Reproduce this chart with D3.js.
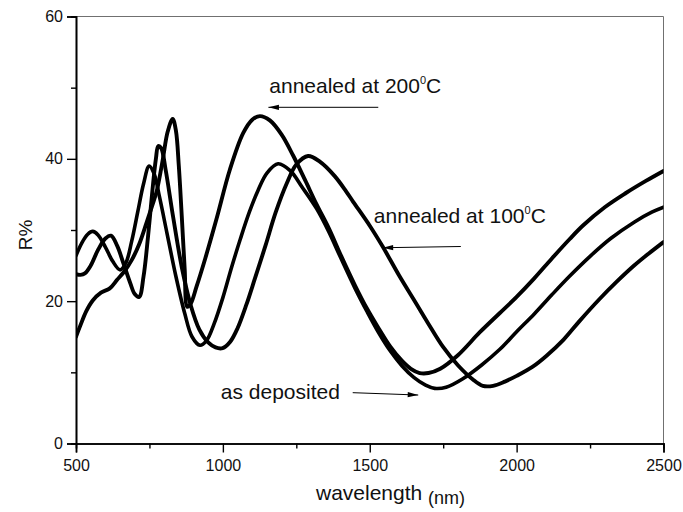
<!DOCTYPE html>
<html>
<head>
<meta charset="utf-8">
<script src="https://cdn.jsdelivr.net/npm/d3@7"></script>
<style>
  html, body { margin: 0; padding: 0; background: #fff; }
  svg { display: block; }
  text { font-family: "Liberation Sans", Arial, Helvetica, sans-serif; fill: #111; }
</style>
</head>
<body>
<svg id="chart" width="683" height="512"></svg>
<script>
// ---- data (wavelength in nm, reflectance in %) ----
const wlAsDep = [500,520,540,557,575,600,625,650,670,690,710,730,749,765,785,810,840,870,895,922,945,970,1000,1030,1060,1090,1120,1150,1188,1230,1270,1319,1360,1400,1450,1490,1530,1570,1610,1650,1690,1721,1760,1817,1880,1942,2000,2060,2120,2180,2250,2320,2400,2460,2500];
const rAsDep  = [26.4,28.2,29.4,29.8,29.3,27.6,25.6,24.4,25.4,28.5,32.5,36.5,39.0,38.0,34.5,29.5,23.5,18.3,15.0,13.8,14.5,16.8,20.5,24.8,28.8,32.5,35.6,38.0,39.3,38.3,36.0,33.0,29.8,26.2,21.8,18.6,15.6,13.0,10.9,9.3,8.2,7.75,7.9,9.1,11.0,13.2,15.7,18.2,20.9,23.5,26.3,28.8,31.1,32.5,33.2];

const wl100 = [500,515,530,550,575,600,619,640,660,685,700,715,730,745,760,772,780,790,805,830,860,890,920,950,975,999,1025,1050,1080,1110,1145,1180,1218,1250,1290,1330,1380,1420,1443,1500,1545,1600,1659,1700,1749,1800,1851,1885,1920,1960,2000,2055,2101,2160,2214,2280,2340,2400,2450,2500];
const r100  = [23.8,23.7,23.9,25.0,27.2,28.8,29.2,27.8,25.5,22.5,21.0,20.6,23.5,29.0,35.5,40.0,41.8,41.5,38.5,32.0,24.8,19.5,16.0,14.2,13.5,13.4,14.3,16.2,19.5,23.3,27.8,32.5,36.6,39.2,40.4,39.6,37.6,35.4,34.0,30.6,27.6,23.6,19.6,16.8,13.6,11.0,9.0,8.1,8.1,8.7,9.5,10.8,12.3,14.6,17.2,20.2,22.7,25.0,26.7,28.3];

const wl200 = [500,515,535,557,585,615,640,665,690,715,740,760,775,795,812,829,840,850,860,870,879,890,910,940,978,1024,1069,1100,1126,1160,1200,1240,1280,1319,1360,1400,1450,1490,1530,1570,1610,1640,1670,1700,1740,1800,1874,1942,2000,2060,2120,2180,2225,2300,2372,2440,2500];
const r200  = [15.0,16.6,18.6,20.1,21.2,21.8,23.0,24.2,25.8,28.0,31.0,33.5,35.5,39.8,43.8,45.6,44.0,39.0,32.0,24.5,19.2,19.6,22.0,26.0,31.5,38.5,43.6,45.5,46.0,45.4,43.4,40.4,37.0,33.6,30.3,26.6,22.2,19.0,16.2,13.6,11.6,10.5,9.9,9.9,10.5,12.4,15.6,18.3,20.6,23.2,26.0,28.7,30.6,33.2,35.2,36.9,38.3];

const xMajorTicks = [500,1000,1500,2000,2500];
const xMinorTicks = [750,1250,1750,2250];
const yMajorTicks = [0,20,40,60];
const yMinorTicks = [10,30,50];

// annotation anchor points in data units
const annoLabels = ["annealed at 200", "annealed at 100", "as deposited"];
const annoSup    = ["0", "0", ""];
const annoSuffix = ["C", "C", ""];
const annoTextWl = [1158, 1514, 993];
const annoTextR  = [49.3, 30.94, 6.21];
const arrowFromWl = [1529, 1810, 1442];
const arrowFromR  = [47.24, 27.68, 7.14];
const arrowToWl   = [1155, 1544, 1665];
const arrowToR    = [47.24, 27.51, 6.81];

// ---- drawing ----
const svg = d3.select("#chart");
const x = d3.scaleLinear().domain([500, 2500]).range([76, 663.5]);
const y = d3.scaleLinear().domain([0, 60]).range([443.5, 16.5]);

// frame: top and right thin grey
svg.append("line").attr("x1", x(500)).attr("x2", x(2500)).attr("y1", y(60)).attr("y2", y(60))
   .attr("stroke", "#707070").attr("stroke-width", 1);
svg.append("line").attr("x1", x(2500)).attr("x2", x(2500)).attr("y1", y(0)).attr("y2", y(60))
   .attr("stroke", "#707070").attr("stroke-width", 1);

// axes
const fontFam = '"Liberation Sans", Arial, Helvetica, sans-serif';
const gxMinor = svg.append("g").attr("transform", `translate(0,${y(0)})`)
  .call(d3.axisBottom(x).tickValues(xMinorTicks).tickSize(5).tickFormat(""));
const gx = svg.append("g").attr("transform", `translate(0,${y(0)})`)
  .call(d3.axisBottom(x).tickValues(xMajorTicks).tickSize(9).tickPadding(7).tickFormat(d3.format("d")));
const gyMinor = svg.append("g").attr("transform", `translate(${x(500)},0)`)
  .call(d3.axisLeft(y).tickValues(yMinorTicks).tickSize(5).tickFormat(""));
const gy = svg.append("g").attr("transform", `translate(${x(500)},0)`)
  .call(d3.axisLeft(y).tickValues(yMajorTicks).tickSize(9).tickPadding(4).tickFormat(d3.format("d")));

[gx, gy, gxMinor, gyMinor].forEach(g => {
  g.select(".domain").attr("stroke", "#000").attr("stroke-width", 1.6);
  g.selectAll(".tick line").attr("stroke", "#000").attr("stroke-width", 1.4);
  g.selectAll(".tick text").attr("font-family", fontFam).attr("font-size", 16).attr("fill", "#111");
});

// axis titles
const xt = svg.append("text").attr("x", 316).attr("y", 500).attr("font-size", 21);
xt.append("tspan").text("wavelength ");
xt.append("tspan").attr("font-size", 18).attr("dy", 4).text("(nm)");

svg.append("text").attr("transform", "translate(32,235) rotate(-90)")
  .attr("text-anchor", "middle").attr("font-size", 19).text("R%");

// curves
svg.append("clipPath").attr("id", "plotclip").append("rect")
  .attr("x", x(500)).attr("y", y(60)).attr("width", x(2500) - x(500)).attr("height", y(0) - y(60));

const line = d3.line().curve(d3.curveCatmullRom.alpha(0.5));
const series = [
  {wl: wlAsDep, r: rAsDep, w: 3.6},
  {wl: wl100, r: r100, w: 3.9},
  {wl: wl200, r: r200, w: 3.9}
];
const gc = svg.append("g").attr("clip-path", "url(#plotclip)");
series.forEach(s => {
  const pts = s.wl.map((w, i) => [x(w), y(s.r[i])]);
  gc.append("path").attr("d", line(pts)).attr("fill", "none")
    .attr("stroke", "#000").attr("stroke-width", s.w)
    .attr("stroke-linejoin", "round").attr("stroke-linecap", "round");
});

// arrow marker
svg.append("defs").append("marker").attr("id", "ah")
  .attr("viewBox", "0 0 12 8").attr("refX", 12).attr("refY", 4)
  .attr("markerWidth", 12).attr("markerHeight", 7).attr("markerUnits", "userSpaceOnUse")
  .attr("orient", "auto")
  .append("path").attr("d", "M0,1 L12,4 L0,7 Z").attr("fill", "#000");

annoLabels.forEach((lab, i) => {
  const t = svg.append("text").attr("x", x(annoTextWl[i])).attr("y", y(annoTextR[i])).attr("font-size", 21);
  t.append("tspan").text(lab);
  if (annoSup[i]) {
    t.append("tspan").attr("font-size", 11).attr("dy", -9).text(annoSup[i]);
    t.append("tspan").attr("font-size", 21).attr("dy", 9).text(annoSuffix[i]);
  }
  svg.append("line")
    .attr("x1", x(arrowFromWl[i])).attr("y1", y(arrowFromR[i]))
    .attr("x2", x(arrowToWl[i])).attr("y2", y(arrowToR[i]))
    .attr("stroke", "#000").attr("stroke-width", 1)
    .attr("marker-end", "url(#ah)");
});
</script>
</body>
</html>
